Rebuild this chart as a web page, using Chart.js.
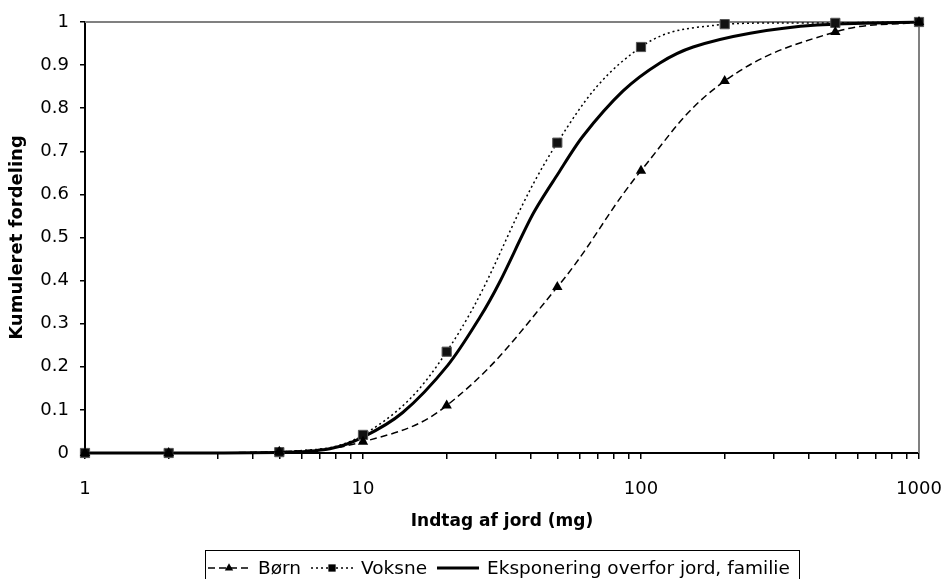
<!DOCTYPE html>
<html>
<head>
<meta charset="utf-8">
<script src="https://cdn.jsdelivr.net/npm/chart.js@4"></script>
<style>
  html, body { margin: 0; padding: 0; background: #fff; }
  #wrap { position: relative; width: 946px; height: 579px; }
</style>
</head>
<body>
<div id="wrap"><canvas id="cdfChart"></canvas></div>
<script>
// sampled intakes (mg) for the two measured groups
const doses = [1, 2, 5, 10, 20, 50, 100, 200, 500, 1000];
const childValues = [0, 0, 0.003, 0.026, 0.11, 0.385, 0.655, 0.863, 0.977, 1.0];
const adultValues = [0, 0, 0.002, 0.042, 0.235, 0.72, 0.942, 0.995, 0.998, 1.0];

// combined family curve
const familyDoses = [1, 2, 5, 7.6, 10, 13.9, 20.2, 26.4, 31.1, 40.9, 50.3, 61.8, 86.2, 117, 154, 247, 430, 1000];
const familyValues = [0, 0, 0.001, 0.01, 0.037, 0.094, 0.204, 0.316, 0.398, 0.555, 0.648, 0.735, 0.84, 0.905, 0.942, 0.974, 0.993, 1.0];

const seriesLabels = ['Børn', 'Voksne', 'Eksponering overfor jord, familie'];
// tick marks on the log axis, only the decades get a label
const xTickValues = [1, 2, 3, 4, 5, 6, 7, 8, 9, 10, 20, 30, 40, 50, 60, 70, 80, 90,
  100, 200, 300, 400, 500, 600, 700, 800, 900, 1000];
const xTickLabels = [1, 10, 100, 1000];

const FONT = '"DejaVu Sans", sans-serif';

function toPoints(xs, ys) {
  return xs.map((x, i) => ({ x: x, y: ys[i] }));
}

function drawMarker(ctx, style, x, y, r) {
  ctx.fillStyle = '#000';
  ctx.beginPath();
  if (style === 'triangle') {
    ctx.moveTo(x, y - r);
    ctx.lineTo(x + r * 0.87, y + r * 0.5);
    ctx.lineTo(x - r * 0.87, y + r * 0.5);
    ctx.closePath();
    ctx.fill();
  } else {
    const s = r * 0.7;
    ctx.rect(x - s, y - s, 2 * s, 2 * s);
    ctx.fill();
  }
}

// gray frame on top and right of the plot area, like the original sheet
const plotFrame = {
  id: 'plotFrame',
  beforeDatasetsDraw(chart) {
    const { ctx, chartArea: a } = chart;
    ctx.save();
    ctx.strokeStyle = '#808080';
    ctx.lineWidth = 2;
    ctx.beginPath();
    ctx.moveTo(a.left, a.top);
    ctx.lineTo(a.right, a.top);
    ctx.lineTo(a.right, a.bottom);
    ctx.stroke();
    ctx.restore();
  }
};

// legend in a bordered box, line sample with marker in the middle
const boxedLegend = {
  id: 'boxedLegend',
  afterDraw(chart) {
    const ctx = chart.ctx;
    const area = chart.chartArea;
    const sampleW = 42, gap = 8, itemGap = 10, padL = 3, padR = 9;
    const midY = 568;
    ctx.save();
    ctx.font = '18.5px ' + FONT;
    const items = chart.data.datasets.map(ds => ({ ds: ds, w: ctx.measureText(ds.label).width }));
    let total = 0;
    items.forEach((it, i) => {
      total += sampleW + gap + it.w + (i < items.length - 1 ? itemGap : 0);
    });
    const boxW = Math.round(total + padL + padR);
    const boxX = Math.round((area.left + area.right) / 2 - boxW / 2);
    ctx.strokeStyle = '#000';
    ctx.lineWidth = 1;
    ctx.strokeRect(boxX + 0.5, 550.5, boxW, 40);

    let x = boxX + padL;
    items.forEach(it => {
      const ds = it.ds;
      ctx.beginPath();
      ctx.strokeStyle = '#000';
      ctx.setLineDash(ds.borderDash || []);
      ctx.lineWidth = ds.borderWidth;
      ctx.moveTo(x, midY);
      ctx.lineTo(x + sampleW, midY);
      ctx.stroke();
      ctx.setLineDash([]);
      if (ds.pointRadius > 0) drawMarker(ctx, ds.pointStyle, x + sampleW / 2, midY, ds.pointRadius * 0.8);
      x += sampleW + gap;
      ctx.fillStyle = '#000';
      ctx.textBaseline = 'middle';
      ctx.textAlign = 'left';
      ctx.fillText(ds.label, x, midY + 1);
      x += it.w + itemGap;
    });
    ctx.restore();
  }
};

const ctx = document.getElementById('cdfChart').getContext('2d');
new Chart(ctx, {
  type: 'line',
  data: {
    datasets: [
      {
        label: seriesLabels[0],
        data: toPoints(doses, childValues),
        borderColor: '#000',
        backgroundColor: '#000',
        borderWidth: 1.5,
        borderDash: [7, 4],
        pointStyle: 'triangle',
        pointRadius: 6,
        pointBorderWidth: 0,
        tension: 0.4,
        fill: false,
        clip: false
      },
      {
        label: seriesLabels[1],
        data: toPoints(doses, adultValues),
        borderColor: '#000',
        backgroundColor: '#111',
        borderWidth: 1.5,
        borderDash: [2, 3],
        pointStyle: 'rect',
        pointRadius: 6.5,
        pointBorderColor: '#555',
        pointBorderWidth: 1,
        tension: 0.4,
        fill: false,
        clip: false
      },
      {
        label: seriesLabels[2],
        data: toPoints(familyDoses, familyValues),
        borderColor: '#000',
        borderWidth: 3,
        pointRadius: 0,
        tension: 0.3,
        fill: false,
        clip: false
      }
    ]
  },
  options: {
    responsive: true,
    maintainAspectRatio: false,
    animation: false,
    layout: { padding: { left: 0, right: 27, top: 22, bottom: 36 } },
    plugins: {
      legend: { display: false },
      tooltip: { enabled: false }
    },
    scales: {
      x: {
        type: 'logarithmic',
        min: 1,
        max: 1000,
        border: { display: true, color: '#000', width: 2 },
        grid: { display: true, drawOnChartArea: false, drawTicks: true, tickLength: 6, color: '#000', lineWidth: 1.5 },
        ticks: {
          autoSkip: false,
          maxRotation: 0,
          padding: 20,
          color: '#000',
          font: { family: FONT, size: 18 },
          callback: (v) => xTickLabels.includes(v) ? String(v) : ''
        },
        title: {
          display: true,
          text: 'Indtag af jord (mg)',
          color: '#000',
          font: { family: FONT, size: 17, weight: 'bold' },
          padding: { top: 0, bottom: 11 }
        },
        afterBuildTicks: (scale) => {
          scale.ticks = xTickValues.map(v => ({ value: v, major: xTickLabels.includes(v) }));
        },
        afterFit: (scale) => {
          scale.height = 90;
          scale.paddingLeft = 0;
          scale.paddingRight = 0;
        }
      },
      y: {
        min: 0,
        max: 1,
        border: { display: true, color: '#000', width: 2 },
        grid: { display: true, drawOnChartArea: false, drawTicks: true, tickLength: 5, color: '#000', lineWidth: 1.5 },
        ticks: {
          stepSize: 0.1,
          padding: 11,
          color: '#000',
          font: { family: FONT, size: 18 },
          callback: (v) => String(Math.round(v * 10) / 10)
        },
        title: {
          display: true,
          text: 'Kumuleret fordeling',
          color: '#000',
          font: { family: FONT, size: 18, weight: 'bold' },
          padding: { top: 7, bottom: 0 }
        },
        afterFit: (scale) => {
          scale.width = 85;
          scale.paddingTop = 0;
          scale.paddingBottom = 0;
        }
      }
    }
  },
  plugins: [plotFrame, boxedLegend]
});
</script>
</body>
</html>
